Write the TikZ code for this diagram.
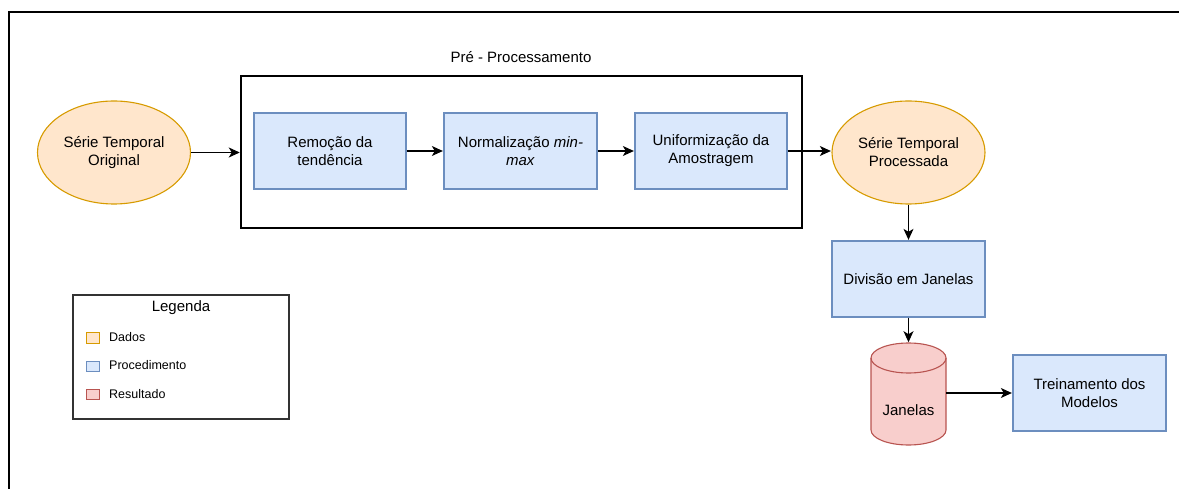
\documentclass[tikz,border=0pt]{standalone}
\usepackage{fontspec}
\setmainfont{Liberation Sans}
\usetikzlibrary{arrows.meta,shapes.geometric}

\definecolor{dataFill}{HTML}{FFE6CC}
\definecolor{dataLine}{HTML}{D79B00}
\definecolor{procFill}{HTML}{DAE8FC}
\definecolor{procLine}{HTML}{6C8EBF}
\definecolor{resFill}{HTML}{F8CECC}
\definecolor{resLine}{HTML}{B85450}

\begin{document}
\begin{tikzpicture}[x=1pt,y=-1pt,
  font=\fontsize{15}{18}\selectfont,
  databox/.style={ellipse, draw=dataLine, fill=dataFill, line width=1.1pt,
    minimum width=153pt, minimum height=103pt, inner sep=0pt, align=center},
  procbox/.style={rectangle, draw=procLine, fill=procFill, line width=1.1pt,
    minimum width=152pt, minimum height=76pt, inner sep=0pt, align=center},
  flow/.style={-{Stealth[length=11pt,width=10pt,inset=3pt]}, line width=1.1pt},
  keybox/.style={rectangle, line width=1pt, minimum width=13pt, minimum height=10pt, inner sep=0pt},
  keytext/.style={anchor=west, font=\fontsize{12.5}{15}\selectfont, inner sep=0pt},
]
\useasboundingbox (0,0) rectangle (1179,489);

% page frame
\draw[line width=1.5pt] (9,489) -- (9,12) -- (1179,12);

% pre-processing group
\node[draw, line width=1.3pt, minimum width=561pt, minimum height=152pt, inner sep=0pt] (pre) at (521.5,152) {};
\node (pretitle) at (521,57) {Pré - Processamento};

% data and procedure nodes
\node[databox] (orig) at (114,152.5) {Série Temporal\\Original};
\node[procbox] (trend) at (330,151) {Remoção da\\tendência};
\node[procbox, minimum width=153pt] (norm) at (520.5,151) {Normalização \textit{min-}\\\textit{max}};
\node[procbox] (unif) at (711,151) {Uniformização da\\Amostragem};
\node[databox] (proc) at (908.5,152.5) {Série Temporal\\Processada};
\node[procbox, minimum width=153pt] (split) at (908.5,279) {Divisão em Janelas};
\node[procbox, minimum width=153pt] (train) at (1089.5,393) {Treinamento dos\\Modelos};

% result: windows store (cylinder)
\filldraw[fill=resFill, draw=resLine, line width=1.1pt]
  (871,358) -- (871,430)
  .. controls (871,438.28) and (887.79,445) .. (908.5,445)
  .. controls (929.21,445) and (946,438.28) .. (946,430)
  -- (946,358)
  .. controls (946,349.72) and (929.21,343) .. (908.5,343)
  .. controls (887.79,343) and (871,349.72) .. (871,358) -- cycle;
\draw[resLine, line width=1.1pt]
  (871,358) .. controls (871,366.28) and (887.79,373) .. (908.5,373)
  .. controls (929.21,373) and (946,366.28) .. (946,358);
\node[minimum width=75pt, minimum height=102pt, inner sep=0pt] (win) at (908.5,394) {};
\node (wintext) at (908.5,410) {Janelas};

% connectors
\draw[flow, shorten >=0.6pt] (orig.east) -- (pre.west |- orig.east);
\draw[flow, shorten >=0.6pt] (trend.east) -- (norm.west);
\draw[flow, shorten >=0.6pt] (norm.east) -- (unif.west);
\draw[flow, shorten >=0.6pt] (unif.east) -- (proc.west |- unif.east);
\draw[flow, shorten >=0.6pt] (proc.south) -- (split.north);
\draw[flow, shorten >=0.6pt] (split.south) -- (win.north);
\draw[flow, shorten >=0.6pt] (win.east |- train.west) -- (train.west);

% legend
\node[draw=black!80, line width=1.3pt, minimum width=216pt, minimum height=124pt, inner sep=0pt] (legend) at (181,357) {};
\node (legtitle) at (181,308) {Legenda};
\node[keybox, draw=dataLine, fill=dataFill] (kdata) at (92.5,338) {};
\node[keybox, draw=procLine, fill=procFill] (kproc) at (92.5,366) {};
\node[keybox, draw=resLine, fill=resFill] (kres) at (92.5,394) {};
\node[keytext] (tdata) at (109,337) {Dados};
\node[keytext] (tproc) at (109,365) {Procedimento};
\node[keytext] (tres) at (109,394) {Resultado};
\end{tikzpicture}
\end{document}
